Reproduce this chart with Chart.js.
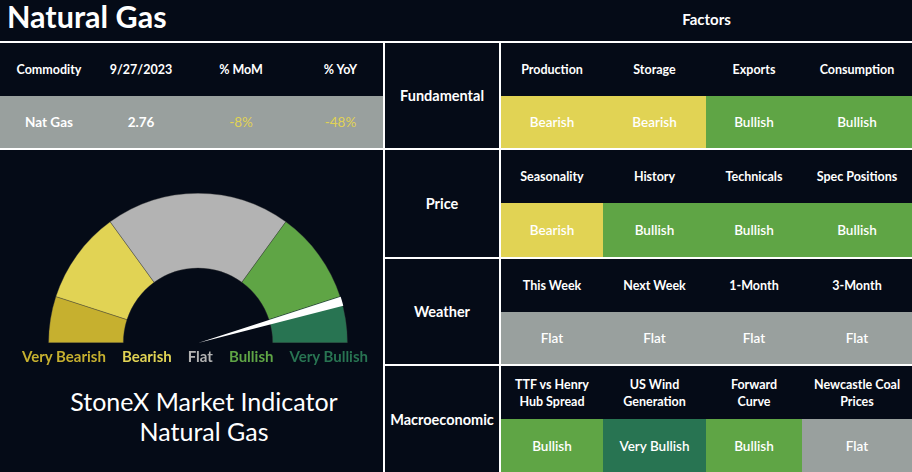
<!DOCTYPE html>
<html>
<head>
<meta charset="utf-8">
<script src="https://cdn.jsdelivr.net/npm/chart.js@4"></script>
<style>
  html, body { margin:0; padding:0; }
  body { width:912px; height:472px; overflow:hidden; background:#050b17; position:relative;
         font-family: Lato, "Open Sans", sans-serif; color:#fff; }
  .abs { position:absolute; }
  .line { position:absolute; background:#fff; }
  .cell { position:absolute; display:flex; align-items:center; justify-content:center; text-align:center; }
  .hdr { font-size:12.5px; font-weight:700; line-height:17px; }
  .val { font-size:13.5px; font-weight:600; }
  .cat { font-size:14.5px; font-weight:700; }
</style>
</head>
<body>
<div class="abs" id="title" style="left:7px; top:-4px; height:41px; line-height:41px; font-size:30.5px; font-weight:700;">Natural Gas</div>
<div class="abs" id="factorsTitle" style="left:501px; width:411px; top:0; height:41px; line-height:39px; text-align:center; font-size:15px; font-weight:700;">Factors</div>

<div id="gaugeBox" class="abs" style="left:48px; top:193px; width:300px; height:150px;"><canvas id="gauge"></canvas></div>
<div id="needleBox" class="abs" style="left:48px; top:193px; width:300px; height:150px;"><canvas id="needle"></canvas></div>
<div id="legend" class="abs" style="left:22px; top:346px; height:20px; display:flex; gap:16px; font-size:15px; font-weight:700; line-height:20px; white-space:nowrap;"></div>
<div id="caption" class="abs" style="left:0; width:408px; top:386px; text-align:center; font-size:25px; line-height:30px; font-weight:400;"></div>

<script>
// ---------- DATA ----------
const pageTitle = 'Natural Gas';
const commodityHeaders = ['Commodity', '9/27/2023', '% MoM', '% YoY'];
const commodityValues = ['Nat Gas', '2.76', '-8%', '-48%'];

const gaugeLabels = ['Very Bearish', 'Bearish', 'Flat', 'Bullish', 'Very Bullish'];
const gaugeValues = [1, 2, 4, 2, 1];
const needleValues = [162, 3.6, 14.4]; // half-circle degrees: before needle, needle, after needle

const captionLines = ['StoneX Market Indicator', 'Natural Gas'];

const categories = ['Fundamental', 'Price', 'Weather', 'Macroeconomic'];
const factorNames = [
  ['Production', 'Storage', 'Exports', 'Consumption'],
  ['Seasonality', 'History', 'Technicals', 'Spec Positions'],
  ['This Week', 'Next Week', '1-Month', '3-Month'],
  ['TTF vs Henry<br>Hub Spread', 'US Wind<br>Generation', 'Forward<br>Curve', 'Newcastle Coal<br>Prices']
];
const factorSignals = [
  ['Bearish', 'Bearish', 'Bullish', 'Bullish'],
  ['Bearish', 'Bullish', 'Bullish', 'Bullish'],
  ['Flat', 'Flat', 'Flat', 'Flat'],
  ['Bullish', 'Very Bullish', 'Bullish', 'Flat']
];

// ---------- STYLE ----------
const gaugeColors = ['#c6b02f', '#e1d354', '#b3b3b3', '#5fa545', '#287452'];
const cellColors = { 'Very Bearish': '#c6b02f', 'Bearish': '#e1d354', 'Flat': '#99a09e', 'Bullish': '#5fa545', 'Very Bullish': '#287452' };
const changeColor = '#e1d354';

// ---------- LAYOUT ----------
const W = 912;
const leftW = 383;
const colX = [501, 603, 706, 802, 912];
const rowTop = [43, 150, 259, 366];
const rowBot = [148, 257, 364, 472];
const hdrH = 53;
const commCols = [0, 98, 184, 298, 383];

function add(html, cls, style) {
  const d = document.createElement('div');
  d.className = cls;
  Object.assign(d.style, style);
  d.innerHTML = html;
  document.body.appendChild(d);
  return d;
}
const px = v => v + 'px';

// lines
add('', 'line', { left: '0', top: '41px', width: W + 'px', height: '2px' });
add('', 'line', { left: '0', top: '148px', width: W + 'px', height: '2px' });
add('', 'line', { left: '385px', top: '257px', width: (W - 385) + 'px', height: '2px' });
add('', 'line', { left: '385px', top: '364px', width: (W - 385) + 'px', height: '2px' });
add('', 'line', { left: '383px', top: '41px', width: '2px', height: (472 - 41) + 'px' });
add('', 'line', { left: '499px', top: '41px', width: '2px', height: (472 - 41) + 'px' });

// commodity table
add('', 'abs', { left: '0', top: '96px', width: leftW + 'px', height: '52px', background: '#99a09e' });
commodityHeaders.forEach((h, i) => {
  add(h, 'cell hdr', { left: px(commCols[i]), width: px(commCols[i + 1] - commCols[i]), top: '43px', height: '53px' });
});
commodityValues.forEach((v, i) => {
  const c = add(v, 'cell val', { left: px(commCols[i]), width: px(commCols[i + 1] - commCols[i]), top: '96px', height: '52px' });
  if (i >= 2) { c.style.color = changeColor; c.style.fontWeight = '400'; }
  else c.style.fontWeight = '700';
});

// factor grid
categories.forEach((cat, r) => {
  add(cat, 'cell cat', { left: '385px', width: '114px', top: px(rowTop[r]), height: px(rowBot[r] - rowTop[r]) });
  factorNames[r].forEach((n, c) => {
    add(n, 'cell hdr', { left: px(colX[c]), width: px(colX[c + 1] - colX[c]), top: px(rowTop[r]), height: px(hdrH) });
    const s = factorSignals[r][c];
    add(s, 'cell val', { left: px(colX[c]), width: px(colX[c + 1] - colX[c]), top: px(rowTop[r] + hdrH),
                         height: px(rowBot[r] - rowTop[r] - hdrH), background: cellColors[s] });
  });
});

// legend + caption
const lg = document.getElementById('legend');
gaugeLabels.forEach((l, i) => {
  const s = document.createElement('span');
  s.textContent = l; s.style.color = gaugeColors[i];
  lg.appendChild(s);
});
document.getElementById('caption').innerHTML = captionLines.join('<br>');

// gauge
const common = {
  responsive: true, maintainAspectRatio: false, animation: false,
  rotation: -90, circumference: 180,
  layout: { padding: 0 },
  plugins: { legend: { display: false }, tooltip: { enabled: false } },
  events: []
};
new Chart(document.getElementById('gauge'), {
  type: 'doughnut',
  data: { labels: gaugeLabels, datasets: [{ data: gaugeValues, backgroundColor: gaugeColors,
          borderColor: 'rgba(60,60,60,0.6)', borderWidth: 0.6 }] },
  options: Object.assign({}, common, { cutout: '50%' })
});
new Chart(document.getElementById('needle'), {
  type: 'pie',
  data: { labels: ['', 'Needle', ''], datasets: [{ data: needleValues,
          backgroundColor: ['rgba(0,0,0,0)', '#ffffff', 'rgba(0,0,0,0)'], borderWidth: 0 }] },
  options: Object.assign({}, common, { cutout: 0 })
});
</script>
</body>
</html>
